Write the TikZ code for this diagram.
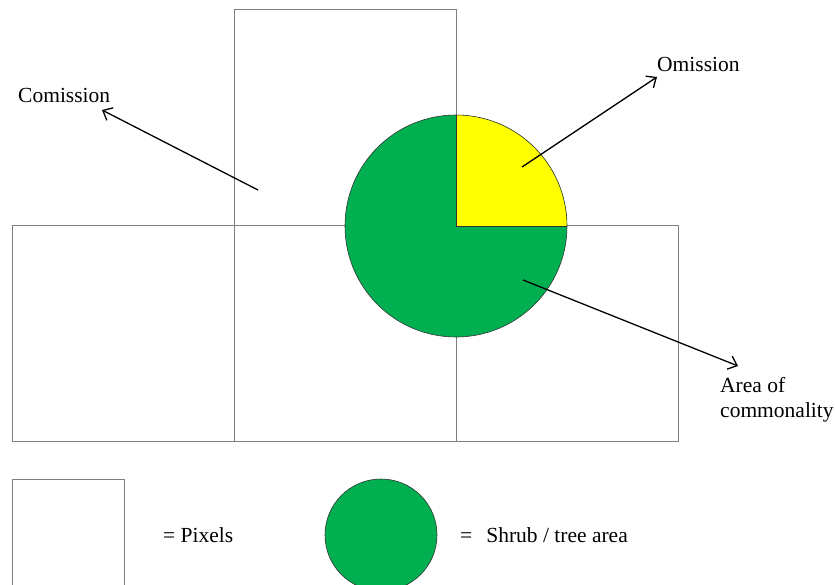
\documentclass[tikz,border=0pt]{standalone}
\usepackage{fontspec}
\setmainfont{Liberation Serif}
\usetikzlibrary{arrows.meta}
\definecolor{shrub}{HTML}{00B050}
\definecolor{omit}{HTML}{FFFF00}
\definecolor{pixline}{HTML}{7F7F7F}
\tikzset{
  pixel/.style={draw=pixline, line width=1pt},
  lbl/.style={font=\fontsize{21.5}{25}\selectfont, inner sep=0pt},
  pointer/.style={draw=black, line width=1.3pt, -{Straight Barb[length=8pt,width=14pt]}},
  disc/.style={draw=black!80, line width=0.6pt}
}
\begin{document}
\begin{tikzpicture}[x=1pt,y=-1pt]
\useasboundingbox (0,0) rectangle (835,585);
\clip (0,0) rectangle (835,585);
% pixel grid
\draw[pixel] (234,10) rectangle (456,226);
\draw[pixel] (12,226) rectangle (234,441);
\draw[pixel] (234,226) rectangle (456,441);
\draw[pixel] (456,226) rectangle (678,441);
% shrub disc
\coordinate (c) at (456,226);
\fill[shrub] (c) circle (111);
\fill[omit] (c) -- (567,226) arc[start angle=0, end angle=-90, radius=111] -- cycle;
\draw[disc] (c) circle (111);
\draw[disc] (456,115) -- (c) -- (567,226);
% labels
\node[lbl, anchor=base west] (com) at (18,103) {Comission};
\node[lbl, anchor=base west] (om) at (657,72) {Omission};
\node[lbl, anchor=base west, align=left] (area) at (720,417) {Area of\\commonality};
% arrows
\coordinate (comS) at (258,190);
\coordinate (comE) at (102,110);
\coordinate (omS) at (522,167);
\coordinate (omE) at (657,77);
\coordinate (arS) at (523,280);
\coordinate (arE) at (738,366);
\draw[pointer] (comS) -- (comE);
\draw[pointer] (omS) -- (omE);
\draw[pointer] (arS) -- (arE);
% legend
\draw[pixel] (12,479) rectangle (124,600);
\node[lbl, anchor=base west] (pix) at (163,542) {= Pixels};
\fill[shrub] (381,535) circle (56);
\draw[disc] (381,535) circle (56);
\node[lbl, anchor=base west] (shr) at (460,542) {=\hspace{14pt}Shrub / tree area};
\end{tikzpicture}
\end{document}
